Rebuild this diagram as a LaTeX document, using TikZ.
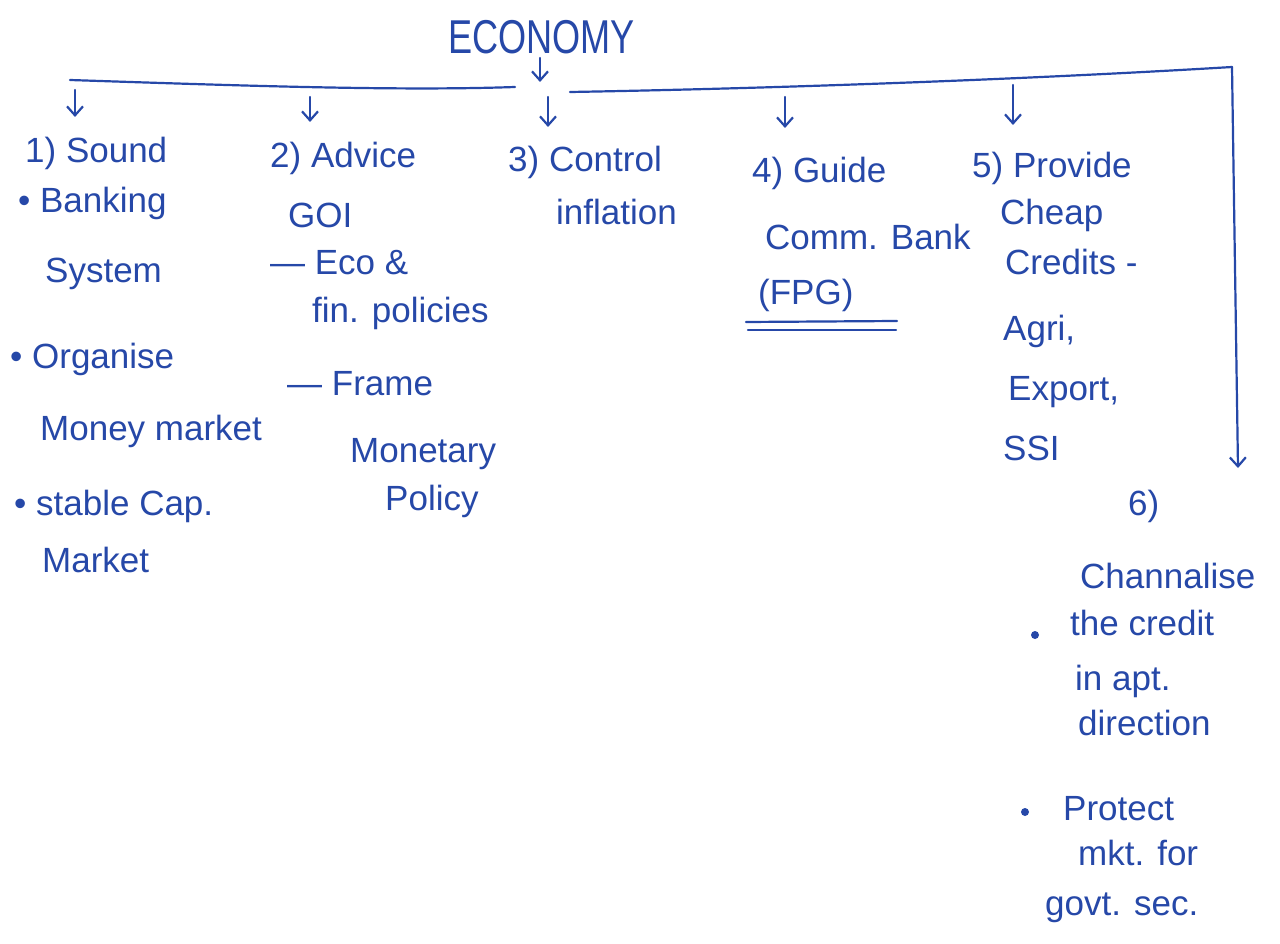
\documentclass[tikz,border=0pt]{standalone}
\usepackage{fontspec}
\setmainfont{Liberation Sans}
\usetikzlibrary{arrows.meta}
\definecolor{ink}{RGB}{38,72,168}
\tikzset{
  txt/.style={anchor=base west, inner sep=0pt, text=ink, font=\fontsize{35}{40}\selectfont},
  big/.style={txt, font=\fontsize{38}{44}\selectfont, yscale=1.25, xscale=0.95},
  stroke/.style={draw=ink, line width=2.2pt, line cap=round, line join=round},
  arr/.style={stroke, -{Straight Barb[length=9pt,width=16pt,line width=2.2pt]}},
  dotb/.style={circle, fill=ink, inner sep=0pt, minimum size=8pt}
}
\begin{document}
\begin{tikzpicture}[x=1pt,y=-1pt]
\useasboundingbox (0,0) rectangle (1280,944);
\fill[white] (0,0) rectangle (1280,944);

% title
\node[big] (eco) at (448,54) {ECONOMY};
\coordinate (ecoS) at (540,58);
\coordinate (ecoE) at (540,82);
\draw[arr] (ecoS) -- (ecoE);

% bar
\coordinate (barL) at (70,80);
\coordinate (barM1) at (515,87);
\coordinate (barM2) at (570,92);
\coordinate (barR) at (1232,67);
\coordinate (barEnd) at (1238,468);
\draw[stroke] (barL) .. controls (250,86) and (400,91) .. (barM1);
\draw[stroke] (barM2) .. controls (800,88) and (1050,78) .. (barR);
\draw[arr] (barR) -- (barEnd);

% branch arrows
\foreach \n/\x/\ya/\yb in {1/75/90/117, 2/310/97/122, 3/548/97/127, 4/785/97/128, 5/1013/85/125}{
  \coordinate (a\n s) at (\x,\ya);
  \coordinate (a\n e) at (\x,\yb);
  \draw[arr] (a\n s) -- (a\n e);
}

% column 1
\node[txt] (c1a) at (25,163) {1) Sound};
\node[txt] (c1b) at (18,213) {• Banking};
\node[txt] (c1c) at (45,282) {System};
\node[txt] (c1d) at (10,368) {• Organise};
\node[txt] (c1e) at (40,440) {Money market};
\node[txt] (c1f) at (14,515) {• stable Cap.};
\node[txt] (c1g) at (42,572) {Market};

% column 2
\node[txt] (c2a) at (270,168) {2) Advice};
\node[txt] (c2b) at (288,228) {GOI};
\node[txt] (c2c) at (270,275) {— Eco \&};
\node[txt] (c2d) at (312,322) {fin. policies};
\node[txt] (c2e) at (287,395) {— Frame};
\node[txt] (c2f) at (350,462) {Monetary};
\node[txt] (c2g) at (385,510) {Policy};

% column 3
\node[txt] (c3a) at (508,172) {3) Control};
\node[txt] (c3b) at (556,225) {inflation};

% column 4
\node[txt] (c4a) at (752,183) {4) Guide};
\node[txt] (c4b) at (765,250) {Comm. Bank};
\node[txt] (c4c) at (758,305) {(FPG)};
\coordinate (u1a) at (746,322); \coordinate (u1b) at (897,321);
\coordinate (u2a) at (748,330); \coordinate (u2b) at (896,330);
\draw[stroke] (u1a) -- (u1b);
\draw[stroke] (u2a) -- (u2b);

% column 5
\node[txt] (c5a) at (972,178) {5) Provide};
\node[txt] (c5b) at (1000,225) {Cheap};
\node[txt] (c5c) at (1005,275) {Credits -};
\node[txt] (c5d) at (1003,340) {Agri,};
\node[txt] (c5e) at (1008,400) {Export,};
\node[txt] (c5f) at (1003,460) {SSI};

% column 6
\node[txt] (c6a) at (1128,515) {6)};
\node[txt] (c6b) at (1080,588) {Channalise};
\node[dotb] (d1) at (1035,635) {};
\node[txt] (c6c) at (1070,635) {the credit};
\node[txt] (c6d) at (1075,690) {in apt.};
\node[txt] (c6e) at (1078,735) {direction};
\node[dotb] (d2) at (1025,812) {};
\node[txt] (c6f) at (1063,820) {Protect};
\node[txt] (c6g) at (1078,865) {mkt. for};
\node[txt] (c6h) at (1045,915) {govt. sec.};
\end{tikzpicture}
\end{document}
